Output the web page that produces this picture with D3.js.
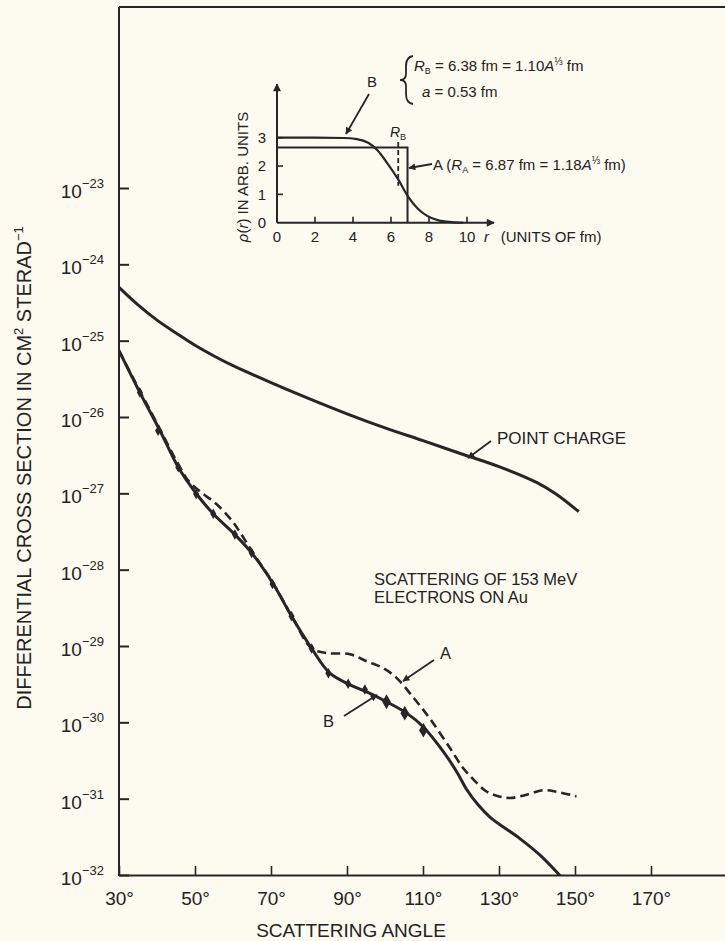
<!DOCTYPE html>
<html>
<head>
<meta charset="utf-8">
<script src="https://cdn.jsdelivr.net/npm/d3@7"></script>
<style>
  body { margin: 0; background: #fdfaf0; }
  svg { display: block; }
  text { font-family: "Liberation Sans", Arial, Helvetica, sans-serif; fill: #222; }
</style>
</head>
<body>
<svg id="chart" width="725" height="941"></svg>
<script>
"use strict";

// --- data ---
var angleTicks = [30, 50, 70, 90, 110, 130, 150, 170];
var decadeExps = [-23, -24, -25, -26, -27, -28, -29, -30, -31, -32];

// point charge (Mott) curve
var pointAngles = [30, 35, 40, 45, 50, 55, 60, 70, 80, 90, 100, 110, 120, 130, 140, 145, 151];
var pointValues = [5.0e-25, 2.95e-25, 1.86e-25, 1.26e-25, 8.7e-26, 6.3e-26, 4.7e-26, 2.82e-26, 1.74e-26, 1.10e-26, 7.2e-27, 4.9e-27, 3.3e-27, 2.24e-27, 1.38e-27, 9.8e-28, 5.75e-28];

// curve B (solid, Fermi distribution)
var curveBAngles = [30, 35.5, 40.8, 45.6, 50.4, 54.8, 60.5, 64.9, 70.6, 75.4, 80.7, 85.5, 90.8, 95.2, 100.4, 105.7, 110.1, 115.4, 118.9, 121.5, 124.5, 127.6, 135.5, 140.8, 146.5];
var curveBValues = [7.4e-26, 2.09e-26, 6.6e-27, 2.19e-27, 9.8e-28, 5.4e-28, 2.88e-28, 1.66e-28, 6.5e-29, 2.45e-29, 9.3e-30, 4.4e-30, 3.1e-30, 2.5e-30, 1.86e-30, 1.32e-30, 8.7e-31, 4.1e-31, 2.24e-31, 1.32e-31, 8.3e-32, 5.75e-32, 3.0e-32, 1.82e-32, 9.3e-33];

// curve A (dashed, uniform distribution)
var curveAAngles = [30, 35.5, 40.8, 45.6, 48.5, 52.2, 55.7, 59.7, 62, 65, 70.6, 75.4, 80.7, 84.6, 90.8, 95.2, 99.6, 103.1, 107.5, 111.8, 117.1, 120.6, 123.3, 126.5, 130, 133, 137, 141.7, 145.2, 150.4];
var curveAValues = [7.4e-26, 2.19e-26, 6.9e-27, 2.4e-27, 1.41e-27, 9.8e-28, 7.2e-28, 4.4e-28, 3.0e-28, 1.74e-28, 6.6e-29, 2.5e-29, 9.3e-30, 8.1e-30, 7.8e-30, 6.3e-30, 5.1e-30, 3.8e-30, 2.1e-30, 1.12e-30, 4.6e-31, 2.5e-31, 1.78e-31, 1.26e-31, 1.07e-31, 1.02e-31, 1.12e-31, 1.29e-31, 1.23e-31, 1.07e-31];

// experimental points
var dataAngles = [35.5, 40.3, 45.6, 50.3, 54.8, 60.5, 64.9, 70.4, 75.4, 80.7, 85.1, 90.3, 94.7, 100.4, 105.2, 110.1];
var dataValues = [2.09e-26, 6.6e-27, 2.19e-27, 9.8e-28, 5.4e-28, 2.88e-28, 1.66e-28, 6.5e-29, 2.45e-29, 9.3e-30, 4.4e-30, 3.2e-30, 2.7e-30, 1.86e-30, 1.32e-30, 7.9e-31];

// inset: charge densities
var rTicks = [0, 2, 4, 6, 8, 10];
var rhoTicks = [0, 1, 2, 3];
var fermiR = [0, 2, 3.5, 4.2, 4.8, 5.3, 5.8, 6.4, 6.9, 7.4, 7.9, 8.5, 9.2, 9.8];
var fermiRho = [3.0, 3.0, 2.99, 2.95, 2.82, 2.55, 2.1, 1.5, 0.92, 0.5, 0.24, 0.08, 0.02, 0.0];
var stepR = [0, 6.87, 6.87];
var stepRho = [2.65, 2.65, 0];
var radiusB = 6.38;

var ink = "#262626";
var svg = d3.select("#chart");

var x = d3.scaleLinear().domain([30, 190]).range([119, 727]);
var y = d3.scaleLog().domain([1e-32, 1e-23]).range([875, 188]);
var plotTop = 7;

var defs = svg.append("defs");
defs.append("clipPath").attr("id", "plotclip")
  .append("rect").attr("x", 119).attr("y", plotTop).attr("width", 608).attr("height", 875 - plotTop);
defs.append("marker").attr("id", "ah").attr("viewBox", "0 0 10 10")
  .attr("refX", 9).attr("refY", 5).attr("markerWidth", 9).attr("markerHeight", 7)
  .attr("markerUnits", "userSpaceOnUse").attr("orient", "auto")
  .append("path").attr("d", "M0,0L10,5L0,10z").attr("fill", ink);
defs.append("marker").attr("id", "axh").attr("viewBox", "0 0 10 10")
  .attr("refX", 9).attr("refY", 5).attr("markerWidth", 10).attr("markerHeight", 8)
  .attr("markerUnits", "userSpaceOnUse").attr("orient", "auto")
  .append("path").attr("d", "M0,0L10,5L0,10z").attr("fill", ink);

// frame
svg.append("line").attr("x1", 119).attr("x2", 727).attr("y1", plotTop).attr("y2", plotTop)
  .attr("stroke", ink).attr("stroke-width", 2);
svg.append("line").attr("x1", 119).attr("x2", 119).attr("y1", plotTop).attr("y2", 876)
  .attr("stroke", ink).attr("stroke-width", 2);

// x axis
var xAxis = svg.append("g").attr("transform", "translate(0,875)")
  .call(d3.axisBottom(x).tickValues(angleTicks).tickSizeInner(-9).tickSizeOuter(0)
    .tickPadding(17).tickFormat(function(d) { return d + "\u00b0"; }));
xAxis.select(".domain").attr("stroke", ink).attr("stroke-width", 2);
xAxis.selectAll(".tick line").attr("stroke", ink).attr("stroke-width", 1.6);
xAxis.selectAll(".tick text").attr("font-size", 19).attr("fill", "#222")
  .attr("font-family", "Liberation Sans, Arial, sans-serif");

// y axis ticks (inside)
var yAxis = svg.append("g").attr("transform", "translate(119,0)")
  .call(d3.axisRight(y).tickValues(decadeExps.map(function(e) { return Math.pow(10, e); }))
    .tickSize(10).tickFormat(""));
yAxis.select(".domain").remove();
yAxis.selectAll(".tick line").attr("stroke", ink).attr("stroke-width", 2);

decadeExps.forEach(function(e) {
  var t = svg.append("text").attr("x", 104).attr("y", y(Math.pow(10, e)) + 10)
    .attr("text-anchor", "end").attr("font-size", 19);
  t.append("tspan").text("10");
  t.append("tspan").attr("font-size", 13).attr("dy", -10).text("\u2212" + (-e));
});

// axis titles
svg.append("text").attr("x", x(90) + 4).attr("y", 937).attr("text-anchor", "middle")
  .attr("font-size", 19).text("SCATTERING ANGLE");
var yt = svg.append("text").attr("transform", "translate(31,468) rotate(-90)")
  .attr("text-anchor", "middle").attr("font-size", 20);
yt.append("tspan").text("DIFFERENTIAL CROSS SECTION IN CM");
yt.append("tspan").attr("font-size", 13).attr("dy", -8).text("2");
yt.append("tspan").attr("dy", 8).text(" STERAD");
yt.append("tspan").attr("font-size", 13).attr("dy", -8).text("\u22121");

// curves
var line = d3.line()
  .x(function(d) { return x(d[0]); })
  .y(function(d) { return y(d[1]); })
  .curve(d3.curveCatmullRom.alpha(0.5));

var plot = svg.append("g").attr("clip-path", "url(#plotclip)");
plot.append("path").datum(d3.zip(pointAngles, pointValues)).attr("d", line)
  .attr("fill", "none").attr("stroke", ink).attr("stroke-width", 3);
plot.append("path").datum(d3.zip(curveAAngles, curveAValues)).attr("d", line)
  .attr("fill", "none").attr("stroke", ink).attr("stroke-width", 2.6)
  .attr("stroke-dasharray", "9,5");
plot.append("path").datum(d3.zip(curveBAngles, curveBValues)).attr("d", line)
  .attr("fill", "none").attr("stroke", ink).attr("stroke-width", 3);

var diamond = d3.symbol().type(d3.symbolDiamond);
plot.selectAll(".pt").data(d3.zip(dataAngles, dataValues)).enter().append("path")
  .attr("class", "pt")
  .attr("transform", function(d) { return "translate(" + x(d[0]) + "," + y(d[1]) + ")"; })
  .attr("d", function(d, i) { return diamond.size(i >= 13 ? 64 : 32)(); })
  .attr("fill", ink);

// annotations on the main plot
function arrow(x1, y1, x2, y2) {
  svg.append("line").attr("x1", x1).attr("y1", y1).attr("x2", x2).attr("y2", y2)
    .attr("stroke", ink).attr("stroke-width", 1.8).attr("marker-end", "url(#ah)");
}
svg.append("text").attr("x", 497).attr("y", 444).attr("font-size", 17).text("POINT CHARGE");
arrow(491, 441, 468, 458);
svg.append("text").attr("x", 374).attr("y", 585).attr("font-size", 16.5).text("SCATTERING OF 153 MeV");
svg.append("text").attr("x", 374).attr("y", 603).attr("font-size", 16.5).text("ELECTRONS ON Au");
svg.append("text").attr("x", 440).attr("y", 659).attr("font-size", 16.5).text("A");
arrow(434, 660, 403, 681);
svg.append("text").attr("x", 323).attr("y", 727).attr("font-size", 16.5).text("B");
arrow(344, 716, 377, 695);

// --- inset ---
var xr = d3.scaleLinear().domain([0, 10]).range([277, 467]);
var yr = d3.scaleLinear().domain([0, 3]).range([222.7, 137.7]);
var inset = svg.append("g");

inset.append("line").attr("x1", xr(0)).attr("x2", 494).attr("y1", yr(0)).attr("y2", yr(0))
  .attr("stroke", ink).attr("stroke-width", 2).attr("marker-end", "url(#axh)");
inset.append("line").attr("x1", xr(0)).attr("x2", xr(0)).attr("y1", yr(0)).attr("y2", 84)
  .attr("stroke", ink).attr("stroke-width", 2).attr("marker-end", "url(#axh)");

rTicks.slice(1).forEach(function(r) {
  inset.append("line").attr("x1", xr(r)).attr("x2", xr(r)).attr("y1", yr(0)).attr("y2", yr(0) - 6)
    .attr("stroke", ink).attr("stroke-width", 1.6);
});
rhoTicks.slice(1).forEach(function(v) {
  inset.append("line").attr("x1", xr(0)).attr("x2", xr(0) + 6).attr("y1", yr(v)).attr("y2", yr(v))
    .attr("stroke", ink).attr("stroke-width", 1.6);
});
rTicks.forEach(function(r) {
  inset.append("text").attr("x", xr(r)).attr("y", 242).attr("text-anchor", "middle")
    .attr("font-size", 15).text(r);
});
rhoTicks.forEach(function(v) {
  inset.append("text").attr("x", 262).attr("y", yr(v)).attr("dy", "0.36em").attr("text-anchor", "middle")
    .attr("font-size", 15).text(v);
});

var rline = d3.line().x(function(d) { return xr(d[0]); }).y(function(d) { return yr(d[1]); });
inset.append("path").datum(d3.zip(stepR, stepRho)).attr("d", rline)
  .attr("fill", "none").attr("stroke", ink).attr("stroke-width", 2);
inset.append("path").datum(d3.zip(fermiR, fermiRho)).attr("d", rline.curve(d3.curveMonotoneX))
  .attr("fill", "none").attr("stroke", ink).attr("stroke-width", 2.2);
inset.append("line").attr("x1", xr(radiusB)).attr("x2", xr(radiusB)).attr("y1", yr(2.85)).attr("y2", yr(1.3))
  .attr("stroke", ink).attr("stroke-width", 1.8).attr("stroke-dasharray", "5,3");

function rich(sel, parts) {
  parts.forEach(function(p) {
    var ts = sel.append("tspan").text(p.t);
    if (p.it) ts.attr("font-style", "italic");
    if (p.fs) ts.attr("font-size", p.fs);
    if (p.dy) ts.attr("dy", p.dy);
  });
  return sel;
}

rich(inset.append("text").attr("x", 398).attr("y", 137).attr("text-anchor", "middle").attr("font-size", 14),
  [{ t: "R", it: true }, { t: "B", fs: 9, dy: 3 }]);

rich(inset.append("text").attr("transform", "translate(248,177) rotate(-90)")
  .attr("text-anchor", "middle").attr("font-size", 15),
  [{ t: "\u03c1", it: true }, { t: "(" }, { t: "r", it: true }, { t: ") IN ARB. UNITS" }]);

rich(inset.append("text").attr("x", 484).attr("y", 242).attr("font-size", 15),
  [{ t: "r", it: true }, { t: "\u2002 (UNITS OF fm)" }]);

inset.append("text").attr("x", 367).attr("y", 87).attr("font-size", 15).text("B");
arrow(369, 94, 346, 134);

rich(inset.append("text").attr("x", 433).attr("y", 170).attr("font-size", 15),
  [{ t: "A (" }, { t: "R", it: true }, { t: "A", fs: 9, dy: 3 }, { t: " = 6.87 fm = 1.18", dy: -3 },
   { t: "A", it: true }, { t: "\u2153", fs: 10, dy: -6 }, { t: " fm)", dy: 6 }]);
arrow(432, 164, 409, 168);

inset.append("path")
  .attr("d", "M413,56 Q406,57 406,66 L406,74 Q406,80 400,80 Q406,80 406,86 L406,94 Q406,103 413,104")
  .attr("fill", "none").attr("stroke", ink).attr("stroke-width", 1.8);
rich(inset.append("text").attr("x", 414).attr("y", 71).attr("font-size", 15),
  [{ t: "R", it: true }, { t: "B", fs: 9, dy: 3 }, { t: " = 6.38 fm = 1.10", dy: -3 },
   { t: "A", it: true }, { t: "\u2153", fs: 10, dy: -6 }, { t: " fm", dy: 6 }]);
rich(inset.append("text").attr("x", 422).attr("y", 97).attr("font-size", 15),
  [{ t: "a", it: true }, { t: " = 0.53 fm" }]);
</script>
</body>
</html>
